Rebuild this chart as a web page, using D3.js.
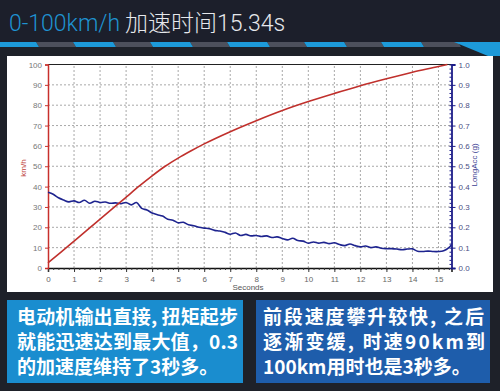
<!DOCTYPE html>
<html><head><meta charset="utf-8">
<script src="https://cdn.jsdelivr.net/npm/d3@7/dist/d3.min.js"></script>
<style>
body{margin:0;background:#1e2129;}
svg{display:block;}
</style></head>
<body>
<svg id="c" width="500" height="391"></svg>
<script>
// ---- data ----
const speedTime = [0, 0.5, 1, 1.5, 2, 2.5, 3, 3.5, 4, 4.5, 5, 5.5, 6, 7, 8, 9, 10, 11, 12, 13, 14, 15, 15.34];
const speedKmh  = [2.5, 7.8, 13.2, 18.6, 24, 29.4, 34.8, 40.2, 45.3, 50, 54, 57.6, 61, 67, 72.4, 77.4, 81.8, 85.8, 89.6, 93, 96.2, 99, 100];
const accTime = [0,0.2,0.4,0.6,0.8,1.0,1.2,1.4,1.6,1.8,2.0,2.2,2.4,2.6,2.8,3.0,3.2,3.4,3.6,3.8,4.0,4.2,4.4,4.6,4.8,5.0,5.2,5.4,5.6,5.8,6.0,6.2,6.4,6.6,6.8,7.0,7.2,7.4,7.6,7.8,8.0,8.2,8.4,8.6,8.8,9.0,9.2,9.4,9.6,9.8,10.0,10.2,10.4,10.6,10.8,11.0,11.2,11.4,11.6,11.8,12.0,12.2,12.4,12.6,12.8,13.0,13.2,13.4,13.6,13.8,14.0,14.2,14.4,14.6,14.8,15.0,15.2,15.4,15.5];
const accG = [0.372,0.362,0.345,0.334,0.325,0.33,0.322,0.333,0.318,0.328,0.322,0.324,0.318,0.32,0.316,0.322,0.31,0.322,0.293,0.285,0.27,0.262,0.255,0.24,0.235,0.222,0.225,0.212,0.208,0.2,0.196,0.193,0.185,0.182,0.175,0.166,0.172,0.16,0.165,0.158,0.16,0.155,0.158,0.15,0.153,0.145,0.138,0.146,0.135,0.132,0.122,0.128,0.122,0.126,0.12,0.124,0.115,0.11,0.118,0.11,0.104,0.108,0.1,0.104,0.097,0.095,0.095,0.093,0.09,0.093,0.094,0.082,0.081,0.083,0.081,0.081,0.085,0.1,0.115];
const xTicks = [0,1,2,3,4,5,6,7,8,9,10,11,12,13,14,15];
const leftTicks = [0,10,20,30,40,50,60,70,80,90,100];
const rightTicks = [0,0.1,0.2,0.3,0.4,0.5,0.6,0.7,0.8,0.9,1];
const titleBlue = "0-100km/h";
const titleWhite = "加速时间15.34s";
const leftNote = ["电动机输出直接, 扭矩起步", "就能迅速达到最大值，0.3", "的加速度维持了3秒多。"];
const rightNote = ["前段速度攀升较快, 之后", "逐渐变缓, 时速90km到", "100km用时也是3秒多。"];

const svg = d3.select("#c");
svg.append("rect").attr("width",500).attr("height",391).attr("fill","#1e2129");
svg.append("rect").attr("width",500).attr("height",42).attr("fill","#1c1f2b");

// title
const t = svg.append("text").attr("x",9).attr("y",31)
  .attr("font-family","Roboto, 'Noto Sans CJK SC', sans-serif").attr("font-weight",300).attr("font-size",23);
t.append("tspan").attr("fill","#1f93d2").text(titleBlue);
t.append("tspan").attr("fill","#e6e8ec").attr("dx",5).text(titleWhite);

// stripe
const stripe = svg.append("g");
for (let i = 0; i < 7; i++) {
  const x0 = -4 + i*77;
  stripe.append("polygon").attr("points", `${x0+40},42 ${x0+77},42 ${x0+80},47 ${x0+43},47`).attr("fill","#4d505c");
  if (x0 < 440) stripe.append("polygon").attr("points", `${x0},42 ${x0+40},42 ${x0+43},47 ${x0+3},47`).attr("fill","#1d9ad9");
}
svg.append("polygon").attr("points","454,42 500,42 500,56 488,56").attr("fill","#1d9ad9");

// chart panel
svg.append("rect").attr("x",7).attr("y",56).attr("width",486).attr("height",236).attr("fill","#ffffff");

const x = d3.scaleLinear().domain([0,15.5]).range([48,451.5]);
const yL = d3.scaleLinear().domain([0,100]).range([268,64.5]);
const yR = d3.scaleLinear().domain([0,1]).range([268,64.5]);

const g = svg.append("g");
// grid
g.selectAll(".gx").data(xTicks.filter(d=>d>0)).join("line")
  .attr("x1",d=>x(d)).attr("x2",d=>x(d)).attr("y1",yL(0)).attr("y2",yL(100))
  .attr("stroke","#a8a8a8").attr("stroke-dasharray","2,2");
g.selectAll(".gy").data(leftTicks.filter(d=>d>0&&d<100)).join("line")
  .attr("x1",x(0)).attr("x2",x(15.5)).attr("y1",d=>yL(d)).attr("y2",d=>yL(d))
  .attr("stroke","#a8a8a8").attr("stroke-dasharray","2,2");
// top frame
g.append("line").attr("x1",x(0)).attr("x2",x(15.5)).attr("y1",yL(100)).attr("y2",yL(100)).attr("stroke","#222").attr("stroke-width",1.2);

const font = "Arial, 'Liberation Sans', sans-serif";
// bottom axis
const xAxis = d3.axisBottom(x).tickValues(xTicks).tickSize(4).tickFormat(d3.format("d"));
const gx = svg.append("g").attr("transform",`translate(0,${yL(0)})`).call(xAxis);
gx.select(".domain").attr("stroke","#111").attr("stroke-width",1.5);
gx.selectAll(".tick line").attr("stroke","#333");
gx.selectAll("text").attr("fill","#666").attr("font-size",8).attr("font-family",font).attr("dy","0.9em");
const xMinor = d3.axisBottom(x).tickValues(d3.range(0,15.5,0.2)).tickSize(2).tickFormat("");
const gxm = svg.append("g").attr("transform",`translate(0,${yL(0)})`).call(xMinor);
gxm.select(".domain").remove(); gxm.selectAll("line").attr("stroke","#333");
svg.append("text").attr("x",248).attr("y",290).attr("text-anchor","middle").attr("font-size",8).attr("font-family",font).attr("fill","#555").text("Seconds");

// left axis
const yAxisL = d3.axisLeft(yL).tickValues(leftTicks).tickSize(3);
const gl = svg.append("g").attr("transform",`translate(${x(0)},0)`).call(yAxisL);
gl.select(".domain").attr("stroke","#c8302c").attr("stroke-width",1.5);
gl.selectAll(".tick line").attr("stroke","#c8302c");
gl.selectAll("text").attr("fill","#777").attr("font-size",8).attr("font-family",font);
svg.append("text").attr("transform","translate(26,168) rotate(-90)").attr("text-anchor","middle")
  .attr("font-size",8).attr("font-family",font).attr("fill","#c0443c").text("km/h");

// right axis
const yAxisR = d3.axisRight(yR).tickValues(rightTicks).tickSize(4);
const gr = svg.append("g").attr("transform",`translate(${x(15.5)},0)`).call(yAxisR);
gr.select(".domain").attr("stroke","#1c1c88").attr("stroke-width",1.8);
gr.selectAll(".tick line").attr("stroke","#1c1c88");
gr.selectAll("text").attr("fill","#4a4e84").attr("font-size",8).attr("font-family",font);
const rMinor = d3.axisLeft(yR).tickValues(d3.range(0,1.001,0.02)).tickSize(2).tickFormat("");
const grm = svg.append("g").attr("transform",`translate(${x(15.5)},0)`).call(rMinor);
grm.select(".domain").remove(); grm.selectAll("line").attr("stroke","#1c1c88");
svg.append("text").attr("transform","translate(477,165) rotate(-90)").attr("text-anchor","middle")
  .attr("font-size",8).attr("font-family",font).attr("fill","#3b3e92").text("LongAcc (g)");

// lines
const accData = accTime.map((t,i)=>[t,accG[i]]);
const spdData = speedTime.map((t,i)=>[t,speedKmh[i]]);
svg.append("path").datum(accData)
  .attr("d", d3.line().x(d=>x(d[0])).y(d=>yR(d[1])).curve(d3.curveCatmullRom))
  .attr("fill","none").attr("stroke","#1e248f").attr("stroke-width",1.6);
svg.append("path").datum(spdData)
  .attr("d", d3.line().x(d=>x(d[0])).y(d=>yL(d[1])).curve(d3.curveMonotoneX))
  .attr("fill","none").attr("stroke","#c0302c").attr("stroke-width",1.6);

// note boxes
function box(x0, w, fill, lines, fits, pad) {
  svg.append("rect").attr("x",x0).attr("y",300).attr("width",w).attr("height",83).attr("fill",fill);
  lines.forEach((s,i)=>{
    const tx = svg.append("text").attr("x",x0+pad).attr("y",324+i*25)
      .attr("font-family","'Noto Sans CJK SC', sans-serif").attr("font-weight",700).attr("font-size",19)
      .attr("fill","#ffffff").text(s);
    if (fits[i]) tx.attr("textLength",fits[i]).attr("lengthAdjust","spacing");
  });
}
box(7, 236, "#1a8dcf", leftNote, [221, 221, 0], 10);
box(256, 234, "#1e5dab", rightNote, [221, 222, 0], 7);
</script>
</body></html>
